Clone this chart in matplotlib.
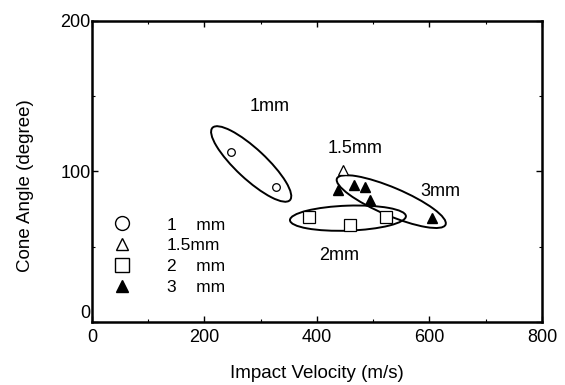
import matplotlib
matplotlib.use("Agg")
import matplotlib.pyplot as plt
from matplotlib.lines import Line2D
from matplotlib.patches import Ellipse
from matplotlib.transforms import ScaledTranslation

plt.rcParams['font.family'] = ['Liberation Sans', 'DejaVu Sans']

# data
v_1mm = [248, 327]
a_1mm = [113, 90]
v_15mm = [447]
a_15mm = [101]
v_2mm = [385, 459, 523]
a_2mm = [70, 64.5, 69.5]
v_3mm = [438, 465, 485, 494, 604]
a_3mm = [88, 91, 89.5, 81, 69]

legend_labels = ["1    mm", "1.5mm", "2    mm", "3    mm"]

# group rings: centre (data), width/height (px), angle (deg)
rings = [
    (283, 105, 106, 30, -43),
    (455, 69, 116, 25, 2),
    (532, 80, 118, 28, -23),
]
# group labels
group_text = ["1mm", "1.5mm", "2mm", "3mm"]
group_x = [316, 467, 439, 619]
group_y = [143, 115, 44.5, 86.5]

fig = plt.figure(figsize=(5.65, 3.85), dpi=100)
ax = fig.add_axes([0.1628, 0.1636, 0.7965, 0.7819])

ax.plot(v_1mm, a_1mm, 'o', ms=5.5, mfc='white', mec='black', mew=0.9, ls='none')
ax.plot(v_15mm, a_15mm, '^', ms=7.5, mfc='white', mec='black', mew=0.9, ls='none')
ax.plot(v_2mm, a_2mm, 's', ms=8.5, mfc='white', mec='black', mew=0.9, ls='none')
ax.plot(v_3mm, a_3mm, '^', ms=7.5, mfc='black', mec='black', ls='none')

for cx, cy, w, h, ang in rings:
    tr = fig.dpi_scale_trans + ScaledTranslation(cx, cy, ax.transData)
    ax.add_patch(Ellipse((0, 0), w / 100, h / 100, angle=ang, fill=False,
                         lw=1.4, ec='black', transform=tr))

for t, x, y in zip(group_text, group_x, group_y):
    ax.text(x, y, t, ha='center', va='center', fontsize=13)

handles = [
    Line2D([], [], marker='o', ls='none', ms=10, mfc='white', mec='black', mew=1.0),
    Line2D([], [], marker='^', ls='none', ms=9, mfc='white', mec='black', mew=1.0),
    Line2D([], [], marker='s', ls='none', ms=10, mfc='white', mec='black', mew=1.0),
    Line2D([], [], marker='^', ls='none', ms=9, mfc='black', mec='black'),
]
ax.legend(handles, legend_labels, loc='lower left', bbox_to_anchor=(0.028, 0.062),
          frameon=False, fontsize=12.5, handletextpad=2.1, labelspacing=0.32,
          handlelength=1.0, borderpad=0)

ax.set_xlim(0, 800)
ax.set_ylim(0, 200)
ax.set_xticks([0, 200, 400, 600, 800])
ax.set_yticks([0, 100, 200])
ax.set_xticks(range(0, 801, 100), minor=True)
ax.set_yticks([50, 150], minor=True)
ax.tick_params(which='both', direction='in', top=True, right=True, labelsize=13)
ax.tick_params(which='major', length=4, width=1.0)
ax.tick_params(which='minor', length=2.5, width=0.8)
ax.tick_params(axis='y', pad=1)
ax.tick_params(axis='x', pad=5)
ax.get_yticklabels()[0].set_va('bottom')
for s in ax.spines.values():
    s.set_linewidth(1.8)

ax.set_xlabel("Impact Velocity (m/s)", fontsize=13.5, labelpad=14)
ax.set_ylabel("Cone Angle (degree)", fontsize=13.5)
ax.yaxis.set_label_coords(-0.129, 0.452)

fig.savefig("out.png", dpi=100)
